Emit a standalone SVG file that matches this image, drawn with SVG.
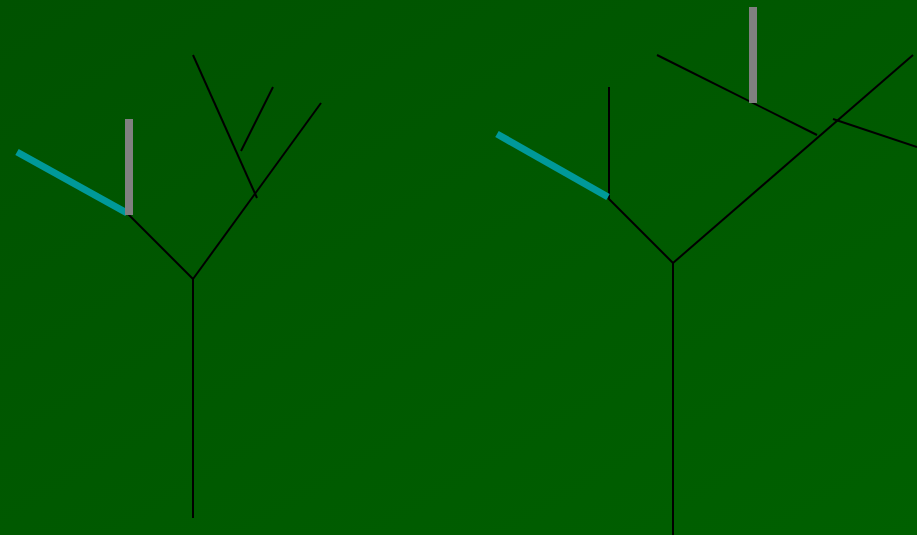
<svg xmlns="http://www.w3.org/2000/svg" width="917" height="535" viewBox="0 0 917 535">
<defs>
<linearGradient id="bg" x1="0" y1="0" x2="1" y2="1">
<stop offset="0" stop-color="#005200"/>
<stop offset="1" stop-color="#006000"/>
</linearGradient>
<style>
.br{stroke:#000;stroke-width:2;fill:none}
.cy{stroke:#009999;stroke-width:7;fill:none}
.gr{fill:#808080}
</style>
</defs>
<rect width="917" height="535" fill="url(#bg)"/>
<g id="tree1">
<line class="br" x1="193" y1="518" x2="193" y2="279"/>
<line class="br" x1="193" y1="279" x2="128" y2="214"/>
<line class="br" x1="193" y1="279" x2="321" y2="103"/>
<line class="br" x1="193" y1="55" x2="257" y2="198"/>
<line class="br" x1="241" y1="151" x2="273" y2="87"/>
<line class="cy" x1="17" y1="152" x2="127" y2="213"/>
<rect class="gr" x="125" y="119" width="8" height="96"/>
</g>
<g id="tree2">
<line class="br" x1="673" y1="535" x2="673" y2="263"/>
<line class="br" x1="673" y1="263" x2="608" y2="198"/>
<line class="br" x1="609" y1="87" x2="609" y2="199"/>
<line class="br" x1="673" y1="263" x2="913" y2="55"/>
<line class="br" x1="657" y1="55" x2="817" y2="135"/>
<line class="br" x1="833" y1="119" x2="917" y2="147"/>
<line class="cy" x1="497" y1="134" x2="608" y2="197"/>
<rect class="gr" x="749" y="7" width="8" height="96"/>
</g>
</svg>
